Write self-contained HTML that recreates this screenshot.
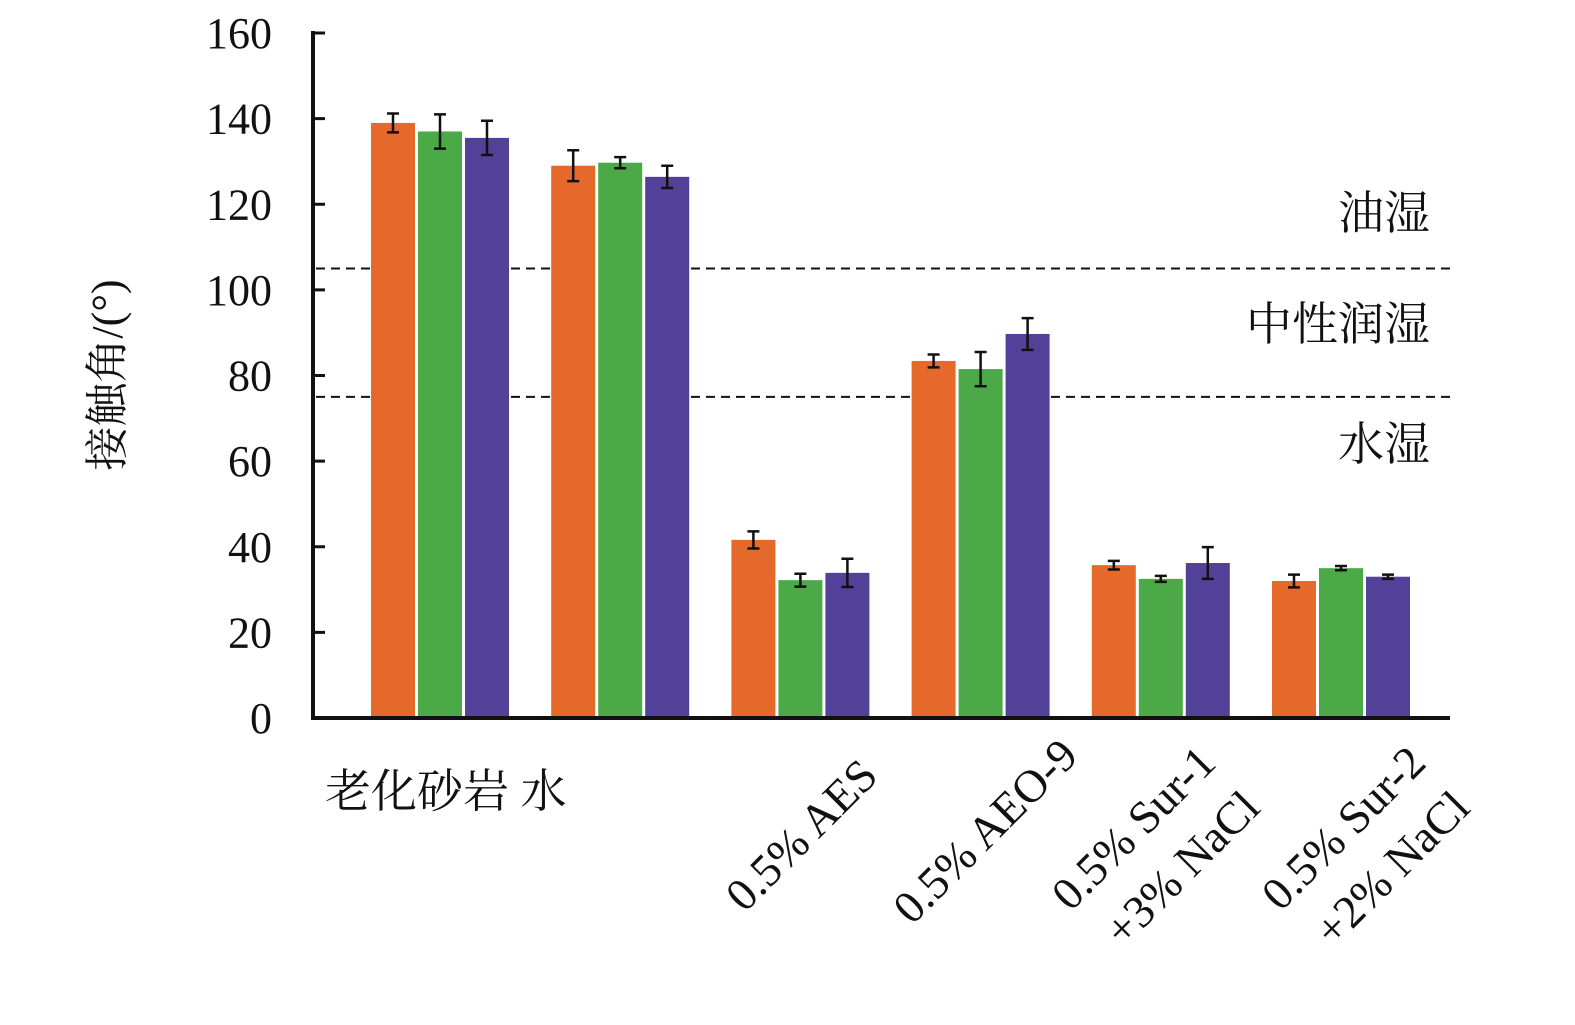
<!DOCTYPE html>
<html><head><meta charset="utf-8"><style>
html,body{margin:0;padding:0;background:#fff;}
svg{display:block;font-family:"Liberation Serif","Noto Serif CJK SC",serif;}
</style></head><body>
<svg id="chart" width="1575" height="1025" viewBox="0 0 1575 1025">
<g id="grid"></g><g id="bars"></g><g id="axes"></g><g id="labels"></g>
</svg>
<script>
const categories = ["老化砂岩 水","0.5% AES","0.5% AEO-9","0.5% Sur-1 +3% NaCl","0.5% Sur-2 +2% NaCl"];
const groups = ["老化砂岩","水","0.5% AES","0.5% AEO-9","0.5% Sur-1 +3% NaCl","0.5% Sur-2 +2% NaCl"];
const seriesA = [139, 129, 41.6, 83.4, 35.7, 32];
const seriesB = [137, 129.7, 32.2, 81.5, 32.5, 35];
const seriesC = [135.5, 126.4, 33.9, 89.7, 36.2, 33];
const errA = [2.2, 3.6, 2, 1.5, 1, 1.5];
const errB = [4, 1.3, 1.5, 4, 0.7, 0.5];
const errC = [4, 2.6, 3.3, 3.7, 3.7, 0.5];
const yTicks = [0,20,40,60,80,100,120,140,160];
const thresholds = [105, 75];
const regionLabels = ["油湿","中性润湿","水湿"];
const regionValues = [118, 92, 64];

const NS="http://www.w3.org/2000/svg";
const y0=718, ppu=(718-33)/160;
const yS=v=>y0-v*ppu;
const xC=i=>440+i*180.2;
function mk(tag,attrs,parent){const e=document.createElementNS(NS,tag);for(const k in attrs)e.setAttribute(k,attrs[k]);document.getElementById(parent).appendChild(e);return e;}

// dashed threshold lines
thresholds.forEach((t,i)=>{
  const l=mk('line',{x1:316,x2:1450,y1:yS(t),y2:yS(t),stroke:'#111','stroke-width':2,'stroke-dasharray':'9,6'},'grid');
  
  
});
// bars
const series=[seriesA,seriesB,seriesC], errs=[errA,errB,errC], colors=['#E5692B','#4BAA47','#524199'];
const bw=44, gap=3;
series.forEach((s,si)=>{
  s.forEach((v,i)=>{
    const x=xC(i)-1.5*bw-gap+si*(bw+gap);
    const r=mk('rect',{x:x,y:yS(v),width:bw,height:y0-yS(v),fill:colors[si]},'bars');
    
    
    const cx=x+bw/2, e=errs[si][i];
    const g=mk('path',{d:`M${cx-6},${yS(v+e)}H${cx+6}M${cx},${yS(v+e)}V${yS(v-e)}M${cx-6},${yS(v-e)}H${cx+6}`,stroke:'#111','stroke-width':2.5,fill:'none'},'bars');
    
    
  });
});
// axes
const ax=mk('path',{d:`M313,31V718H1450`,stroke:'#111','stroke-width':4,fill:'none'},'axes');


yTicks.forEach(t=>{
  const tk=mk('line',{x1:313,x2:325,y1:yS(t),y2:yS(t),stroke:'#111','stroke-width':3},'axes');
  
  
  const tx=mk('text',{x:272,y:yS(t)+15,'text-anchor':'end','font-size':44,fill:'#111'},'axes');
  tx.textContent=t;
  
  
});
// region labels
regionLabels.forEach((t,i)=>{
  const tx=mk('text',{x:1430,y:yS(regionValues[i])+16,'text-anchor':'end','font-size':46,fill:'#111'},'labels');
  tx.textContent=t;
  
  
});
// y title
const yt=mk('text',{x:0,y:0,'text-anchor':'middle','font-size':44,fill:'#111',transform:'translate(122,375) rotate(-90)'},'labels');
yt.textContent='接触角/(°)';


// x labels
const h=mk('text',{x:325,y:807,'font-size':46,fill:'#111'},'labels');
h.textContent='老化砂岩  水';


const rot=[["0.5% AES",880,778],["0.5% AEO-9",1080,758],["0.5% Sur-1",1218,765],["+3% NaCl",1262,810],["0.5% Sur-2",1428,765],["+2% NaCl",1472,810]];
rot.forEach(r=>{
  const tx=mk('text',{x:0,y:0,'text-anchor':'end','font-size':46,fill:'#111',transform:`translate(${r[1]},${r[2]}) rotate(-45)`},'labels');
  tx.textContent=r[0];
  
  
});
</script>
</body></html>
